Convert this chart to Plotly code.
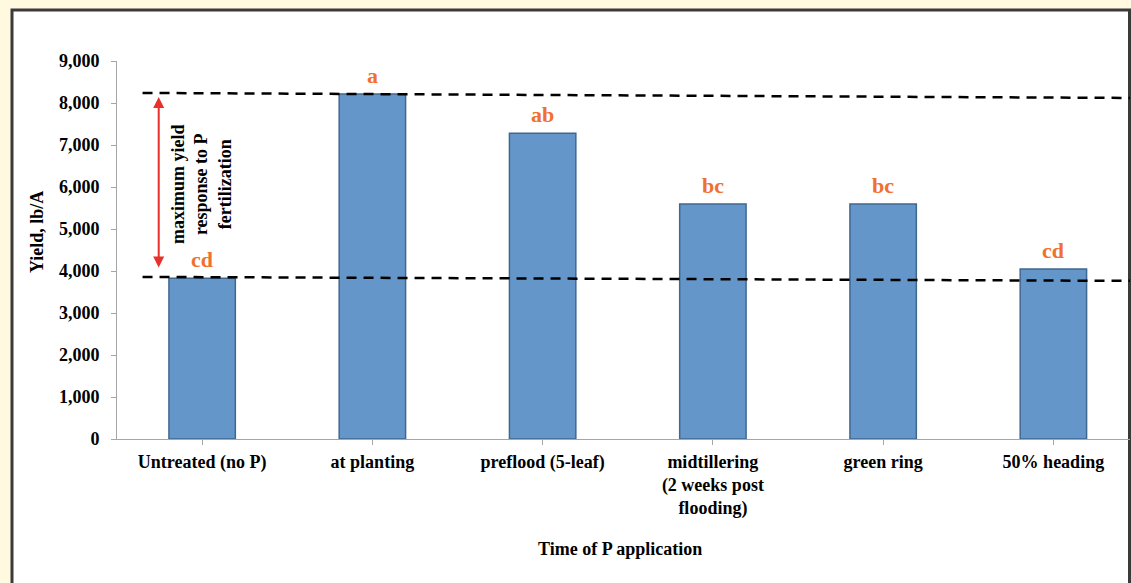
import plotly.graph_objects as go

categories = ["Untreated (no P)", "at planting", "preflood (5-leaf)",
              "midtillering<br>(2 weeks post<br>flooding)", "green ring", "50% heading"]
yields = [3830, 8215, 7280, 5595, 5595, 4050]
letters = ["cd", "a", "ab", "bc", "bc", "cd"]
y_ticks = [0, 1000, 2000, 3000, 4000, 5000, 6000, 7000, 8000, 9000]

# dashed reference lines: (x_start, y_start, x_end, y_end) in data units
upper_line = [-0.35, 8240, 5.45, 8120]
lower_line = [-0.35, 3860, 5.45, 3765]
arrow_span = [-0.255, 8140, 4050]

FONT = "Liberation Serif"
W, H = 1131, 583
L, R, T, B = 117, 1, 61, 144
pw, ph = W - L - R, H - T - B


def px(p):
    return (p - L) / pw


def py(q):
    return (H - B - q) / ph


fig = go.Figure()
fig.add_trace(go.Bar(
    x=list(range(len(categories))), y=yields, width=0.39,
    marker=dict(color="#6596C9", line=dict(color="#3F6891", width=1.5)),
    hoverinfo="skip",
))

for i, (v, t) in enumerate(zip(yields, letters)):
    fig.add_annotation(x=i, y=v, text=t, showarrow=False, yanchor="bottom", yshift=4,
                       font=dict(family=FONT, size=22, color="#F0702F", weight="bold"))

shapes = [
    dict(type="rect", xref="paper", yref="paper", x0=px(12), x1=px(1129.5), y0=py(10), y1=py(620),
         fillcolor="white", line=dict(color="#3a3a3a", width=3), layer="below"),
]
for ln in (upper_line, lower_line):
    shapes.append(dict(type="line", xref="x", yref="y", x0=ln[0], y0=ln[1], x1=ln[2], y1=ln[3],
                       line=dict(color="black", width=2.5, dash="10px,7px"), layer="above"))
fig.update_layout(shapes=shapes)

fig.add_annotation(x=arrow_span[0], y=arrow_span[1], ax=arrow_span[0], ay=arrow_span[2],
                   xref="x", yref="y", axref="x", ayref="y", text="", showarrow=True,
                   arrowhead=2, startarrowhead=2, arrowside="end+start", arrowwidth=2,
                   arrowsize=1.1, startarrowsize=1.1, arrowcolor="#E8312A")

fig.add_annotation(x=px(201), y=py(184), xref="paper", yref="paper", textangle=-90,
                   xanchor="center", yanchor="middle",
                   text="maximum yield<br>response to P<br>fertilization", showarrow=False,
                   font=dict(family=FONT, size=18, color="black", weight="bold"))
fig.add_annotation(x=px(37), y=py(232), xref="paper", yref="paper", textangle=-90,
                   xanchor="center", yanchor="middle",
                   text="Yield, lb/A", showarrow=False,
                   font=dict(family=FONT, size=18, color="black", weight="bold"))
fig.add_annotation(x=px(620), y=py(549), xref="paper", yref="paper",
                   xanchor="center", yanchor="middle",
                   text="Time of P application", showarrow=False,
                   font=dict(family=FONT, size=18, color="black", weight="bold"))

fig.update_xaxes(range=[-0.5, 5.45], tickvals=list(range(len(categories))), ticktext=categories,
                 tickson="boundaries", ticks="outside", ticklen=5, tickcolor="#A6A6A6",
                 showline=True, linecolor="#A6A6A6", linewidth=1, showgrid=False, zeroline=False,
                 ticklabelstandoff=1,
                 tickfont=dict(family=FONT, size=18, color="black", weight="bold"))
fig.update_yaxes(range=[0, 9000], tickvals=y_ticks, tickformat=",d",
                 ticks="outside", ticklen=5, tickcolor="#A6A6A6",
                 showline=True, linecolor="#A6A6A6", linewidth=1, showgrid=False, zeroline=False,
                 ticklabelstandoff=8,
                 tickfont=dict(family=FONT, size=18, color="black", weight="bold"))

fig.update_layout(width=W, height=H, margin=dict(l=L, r=R, t=T, b=B, autoexpand=False),
                  paper_bgcolor="#FFF9DF", plot_bgcolor="rgba(0,0,0,0)",
                  showlegend=False, bargap=0.6)

fig.write_html("out.html", config={"displayModeBar": False, "staticPlot": True},
               post_script="document.body.style.margin='0';document.body.style.overflow='hidden';")
